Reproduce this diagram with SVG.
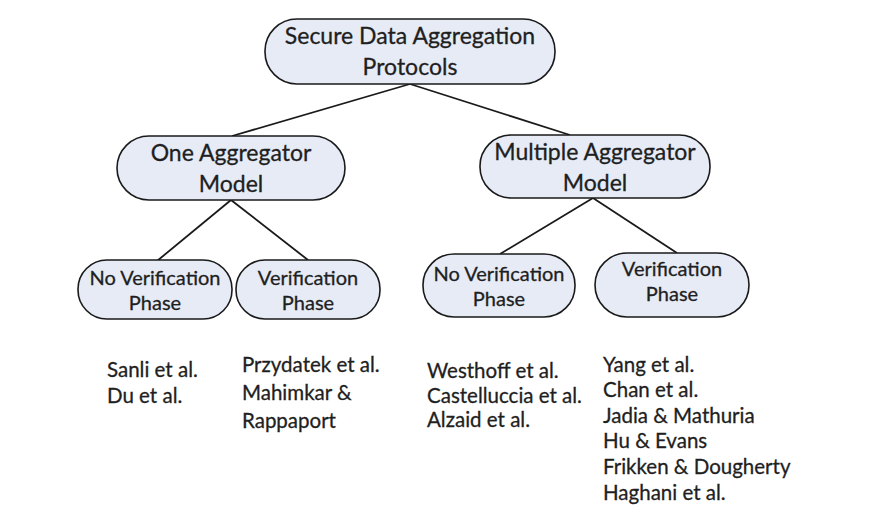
<svg xmlns="http://www.w3.org/2000/svg" width="893" height="514" viewBox="0 0 893 514">
<style>
.node{fill:#e6ebf6;stroke:#1a1a1a;stroke-width:1.6}
.nt{font-family:Lato,"Liberation Sans",sans-serif;font-size:23px;fill:#1f1f1f;stroke:#1f1f1f;stroke-width:0.3;text-anchor:middle}
.st{font-family:Lato,"Liberation Sans",sans-serif;font-size:20px;fill:#1f1f1f;stroke:#1f1f1f;stroke-width:0.3;text-anchor:middle}
.lt{font-family:Lato,"Liberation Sans",sans-serif;font-size:20.5px;fill:#1f1f1f;stroke:#1f1f1f;stroke-width:0.3}
.edge{stroke:#1a1a1a;stroke-width:1.8;fill:none}
</style>
<rect width="893" height="514" fill="#fff"/>
<g id="connectors">
<line class="edge" x1="410" y1="84" x2="232" y2="136"/>
<line class="edge" x1="410" y1="84" x2="570" y2="135"/>
<line class="edge" x1="231" y1="200" x2="157" y2="261"/>
<line class="edge" x1="231" y1="200" x2="308" y2="260"/>
<line class="edge" x1="593" y1="198" x2="500" y2="254"/>
<line class="edge" x1="593" y1="198" x2="677" y2="253"/>
</g>
<g id="root">
<rect class="node" x="265" y="19" width="290" height="65" rx="32"/>
<text class="nt" x="410" y="44">Secure Data Aggregation</text>
<text class="nt" x="410" y="75">Protocols</text>
</g>
<g id="one">
<rect class="node" x="117" y="136" width="228" height="64" rx="32"/>
<text class="nt" x="231" y="161">One Aggregator</text>
<text class="nt" x="231" y="192">Model</text>
</g>
<g id="multi">
<rect class="node" x="480" y="135" width="230" height="63" rx="31"/>
<text class="nt" x="595" y="160">Multiple Aggregator</text>
<text class="nt" x="595" y="191">Model</text>
</g>
<g id="one-nv">
<rect class="node" x="78" y="260" width="154" height="59" rx="29"/>
<text class="st" x="155" y="285">No Verification</text>
<text class="st" x="155" y="310">Phase</text>
</g>
<g id="one-v">
<rect class="node" x="236" y="260" width="144" height="59" rx="29"/>
<text class="st" x="308" y="285">Verification</text>
<text class="st" x="308" y="310">Phase</text>
</g>
<g id="multi-nv">
<rect class="node" x="423" y="254" width="152" height="63" rx="31"/>
<text class="st" x="499" y="281">No Verification</text>
<text class="st" x="499" y="306">Phase</text>
</g>
<g id="multi-v">
<rect class="node" x="595" y="253" width="154" height="64" rx="32"/>
<text class="st" x="672" y="276">Verification</text>
<text class="st" x="672" y="301">Phase</text>
</g>
<g id="lists">
<text class="lt" x="107" y="377">Sanli et al.</text>
<text class="lt" x="107" y="403">Du et al.</text>
<text class="lt" x="242" y="372">Przydatek et al.</text>
<text class="lt" x="242" y="400">Mahimkar &amp;</text>
<text class="lt" x="242" y="428">Rappaport</text>
<text class="lt" x="427" y="378">Westhoff et al.</text>
<text class="lt" x="427" y="403">Castelluccia et al.</text>
<text class="lt" x="427" y="427">Alzaid et al.</text>
<text class="lt" x="603" y="372">Yang et al.</text>
<text class="lt" x="603" y="397">Chan et al.</text>
<text class="lt" x="603" y="423">Jadia &amp; Mathuria</text>
<text class="lt" x="603" y="448">Hu &amp; Evans</text>
<text class="lt" x="603" y="474">Frikken &amp; Dougherty</text>
<text class="lt" x="603" y="500">Haghani et al.</text>
</g>
</svg>
